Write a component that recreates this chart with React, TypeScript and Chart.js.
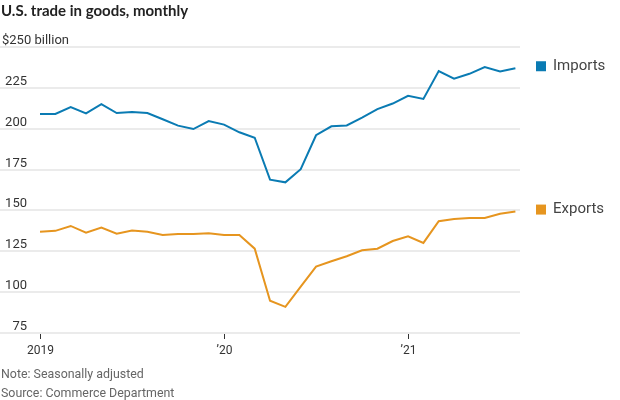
import React, { useEffect, useRef } from "react";
import { Chart, registerables } from "chart.js";

Chart.register(...registerables);

const TITLE = "U.S. trade in goods, monthly";
const UNIT_LABEL = "$250 billion";
const NOTES = ["Note: Seasonally adjusted", "Source: Commerce Department"];

// Months Jan 2019 .. Aug 2021 (index 0..31)
const MONTH_INDEX = Array.from({ length: 32 }, (_, i) => i);

const IMPORTS = [
  209, 209, 213.3, 209.4, 215, 209.6, 210.2, 209.6, 205.8, 201.9, 199.8, 204.7,
  202.5, 197.8, 194.5, 168.8, 167.2, 175.2, 196, 201.5, 202, 206.8, 212, 215.4,
  220.1, 218.2, 235.3, 230.6, 233.6, 237.7, 235, 237,
];

const EXPORTS = [
  137, 137.5, 140.5, 136.4, 139.5, 135.8, 137.7, 136.9, 135, 135.6, 135.6, 136,
  135, 135, 126.6, 94.7, 91, 103.4, 115.6, 118.9, 122, 125.6, 126.6, 131.3,
  134.2, 130.1, 143.4, 144.8, 145.4, 145.4, 148, 149.3,
];

const SERIES_NAMES = ["Imports", "Exports"];
const SERIES_COLORS = ["#0a7bb3", "#e6951f"];

const Y_TICKS = [75, 100, 125, 150, 175, 200, 225];
const X_TICK_POS = [0, 12, 24];
const X_TICK_LABELS = ["2019", "\u201920", "\u201921"];

const NARROW = "'Liberation Sans Narrow', 'Roboto', sans-serif";

const overlayPlugin = {
  id: "overlay",
  afterDraw(chart: any) {
    const ctx = chart.ctx;
    const ys = chart.scales.y;
    const xs = chart.scales.x;
    ctx.save();
    // Title
    ctx.fillStyle = "#222";
    ctx.font = "bold 15px 'Lato', sans-serif";
    ctx.textAlign = "left";
    ctx.textBaseline = "alphabetic";
    ctx.fillText(TITLE, 1, 16);

    // y labels
    ctx.fillStyle = "#333";
    ctx.font = `13px ${NARROW}`;
    ctx.fillText(UNIT_LABEL, 2, ys.getPixelForValue(250) - 3);
    ctx.textAlign = "right";
    Y_TICKS.forEach((v) => {
      ctx.fillText(String(v), 27, ys.getPixelForValue(v) - 3);
    });

    // x ticks
    const base = ys.getPixelForValue(75);
    ctx.strokeStyle = "#333";
    ctx.lineWidth = 1;
    ctx.textAlign = "center";
    ctx.font = `12px ${NARROW}`;
    X_TICK_POS.forEach((p, i) => {
      const x = Math.round(xs.getPixelForValue(p)) + 0.5;
      ctx.beginPath();
      ctx.moveTo(x, base + 1);
      ctx.lineTo(x, base + 6);
      ctx.stroke();
      ctx.fillText(X_TICK_LABELS[i], x, base + 21);
    });

    // legend labels
    const lasts = [IMPORTS[IMPORTS.length - 1], EXPORTS[EXPORTS.length - 1]];
    ctx.textAlign = "left";
    ctx.textBaseline = "middle";
    ctx.font = `15px ${NARROW}`;
    SERIES_NAMES.forEach((name, i) => {
      const cy = ys.getPixelForValue(lasts[i]) - 2;
      ctx.fillStyle = SERIES_COLORS[i];
      ctx.fillRect(536, cy - 5, 10, 10);
      ctx.fillStyle = "#444";
      ctx.fillText(name, 553, cy);
    });

    // notes
    ctx.fillStyle = "#666";
    ctx.textBaseline = "alphabetic";
    ctx.font = `12.4px ${NARROW}`;
    ctx.fillText(NOTES[0], 1, 378);
    ctx.fillText(NOTES[1], 1, 397);
    ctx.restore();
  },
};

export default function App() {
  const ref = useRef<HTMLCanvasElement>(null);
  useEffect(() => {
    document.body.style.margin = "0";
    const canvas = ref.current!;
    const chart = new Chart(canvas, {
      type: "line",
      data: {
        datasets: [
          {
            label: SERIES_NAMES[0],
            data: MONTH_INDEX.map((i) => ({ x: i, y: IMPORTS[i] })),
            borderColor: SERIES_COLORS[0],
            borderWidth: 2,
            pointRadius: 0,
            tension: 0,
          },
          {
            label: SERIES_NAMES[1],
            data: MONTH_INDEX.map((i) => ({ x: i, y: EXPORTS[i] })),
            borderColor: SERIES_COLORS[1],
            borderWidth: 2,
            pointRadius: 0,
            tension: 0,
          },
        ],
      },
      options: {
        responsive: false,
        animation: false,
        devicePixelRatio: 1,
        layout: { padding: { top: 47, bottom: 67, left: 0, right: 100 } },
        plugins: { legend: { display: false }, tooltip: { enabled: false } },
        scales: {
          x: {
            type: "linear",
            display: false,
            min: -2.61,
            max: 31.3,
          },
          y: {
            min: 75,
            max: 250,
            ticks: { display: false, stepSize: 25 },
            border: { display: false },
            grid: { color: "#ebebeb", lineWidth: 2, drawTicks: false },
          },
        },
      },
      plugins: [overlayPlugin],
    });
    return () => chart.destroy();
  }, []);
  return <canvas ref={ref} width={620} height={400} style={{ display: "block" }} />;
}
